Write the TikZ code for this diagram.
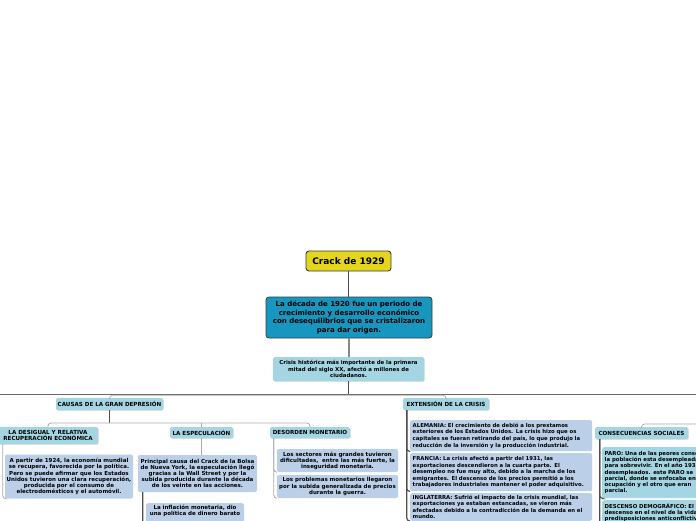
\documentclass[tikz,border=0pt]{standalone}
\usepackage{fontspec}
\setsansfont{DejaVu Sans}
\usetikzlibrary{positioning,calc,shadows}
\definecolor{crackyellow}{HTML}{E4D51F}
\definecolor{mainteal}{HTML}{1797C0}
\definecolor{paleteal}{HTML}{A3D5E2}
\definecolor{palesteel}{HTML}{BBCFE9}
\definecolor{edgedark}{HTML}{3A3A3A}
\definecolor{linkdark}{HTML}{4F4F4F}
\definecolor{linklight}{HTML}{ABABAB}

\begin{document}
\begin{tikzpicture}[
  x=1pt, y=-1pt,
  font=\sffamily\bfseries,
  rootbox/.style={
    draw=edgedark,
    fill=crackyellow,
    rounded corners=3pt,
    line width=0.9pt,
    inner sep=0pt,
    minimum width=85pt,
    minimum height=20pt,
    font=\sffamily\bfseries\fontsize{9}{10}\selectfont
  },
  introbox/.style={
    draw=edgedark,
    fill=mainteal,
    rounded corners=3pt,
    line width=0.8pt,
    inner sep=0pt,
    align=center,
    font=\sffamily\bfseries\fontsize{7}{8.6}\selectfont
  },
  topicbox/.style={
    fill=paleteal,
    rounded corners=1.5pt,
    inner sep=0pt,
    align=center,
    drop shadow={shadow xshift=0.6pt, shadow yshift=-0.7pt, fill=black!30, opacity=0.6},
    font=\sffamily\bfseries\fontsize{5.6}{6}\selectfont
  },
  notebox/.style={
    fill=palesteel,
    rounded corners=2pt,
    inner sep=0pt,
    align=center,
    font=\sffamily\bfseries\fontsize{5.5}{6.1}\selectfont
  },
  leftnote/.style={
    notebox,
    align=left,
    anchor=north west,
    inner xsep=2.5pt,
    font=\sffamily\bfseries\fontsize{5.35}{6.6}\selectfont
  },
  darklink/.style={draw=linkdark, line width=1.2pt},
  greylink/.style={draw=linklight!80!black, line width=1.4pt},
  lightlink/.style={draw=linklight, line width=0.8pt, rounded corners=3pt}
]

  \useasboundingbox (0,0) rectangle (696,520);
  \clip (0,0) rectangle (696,520);

  % ----------------------------------------------------
  % CENTRAL TOPIC
  % ----------------------------------------------------
  \node[rootbox] (crack) at (348.5,261) {Crack de 1929};

  \node[introbox, minimum width=166pt, minimum height=41pt] (decada) at (349,317.5) {
    La década de 1920 fue un periodo de\\
    crecimiento y desarrollo económico\\
    con desequilibrios que se cristalizaron\\
    para dar origen.
  };

  \node[topicbox, minimum width=151pt, minimum height=24pt, font=\sffamily\bfseries\fontsize{5.4}{6.7}\selectfont] (crisis) at (348.5,369) {
    Crisis histórica más importante de la primera\\
    mitad del siglo XX, afectó a millones de\\
    ciudadanos.
  };

  % ----------------------------------------------------
  % MAIN BRANCHES
  % ----------------------------------------------------
  \node[topicbox, minimum width=107pt, minimum height=12pt] (causas) at (109.5,404) {CAUSAS DE LA GRAN DEPRESIÓN};
  \node[topicbox, minimum width=86pt, minimum height=12pt] (extension) at (446,404) {EXTENSIÓN DE LA CRISIS};
  \node[topicbox, minimum width=93pt, minimum height=12pt] (consecuencias) at (641.5,433) {CONSECUENCIAS SOCIALES};

  % Causes
  \node[topicbox, minimum width=100pt, minimum height=17pt] (desigual) at (48,435.5) {
    LA DESIGUAL Y RELATIVA\\
    RECUPERACIÓN ECONÓMICA
  };
  \node[topicbox, minimum width=63pt, minimum height=11pt] (especulacion) at (201.5,432.5) {LA ESPECULACIÓN};
  \node[topicbox, minimum width=80pt, minimum height=11pt] (desorden) at (310,432.5) {DESORDEN MONETARIO};

  \node[notebox, minimum width=128pt, minimum height=44pt] (recupera) at (69,476.5) {
    A partir de 1924, la economía mundial\\
    se recupera, favorecida por la política.\\
    Pero se puede afirmar que los Estados\\
    Unidos tuvieron una clara recuperación,\\
    producida por el consumo de\\
    electrodomésticos y el automóvil.
  };
  \node[notebox, minimum width=119pt, minimum height=37pt] (bolsa) at (197.5,473.5) {
    Principal causa del Crack de la Bolsa\\
    de Nueva York, la especulación llegó\\
    gracias a la Wall Street y por la\\
    subida producida durante la década\\
    de los veinte en las acciones.
  };
  \node[notebox, minimum width=98pt, minimum height=30pt, anchor=north] (inflacion) at (195,503) {
    La inflación monetaria, dio\\
    una política de dinero barato\\[10pt]
  };
  \node[notebox, minimum width=121pt, minimum height=23pt] (sectores) at (337.5,460.5) {
    Los sectores más grandes tuvieron\\
    dificultades,~ entre las más fuerte, la\\
    inseguridad monetaria.
  };
  \node[notebox, minimum width=121pt, minimum height=23pt] (precios) at (337.5,486.5) {
    Los problemas monetarios llegaron\\
    por la subida generalizada de precios\\
    durante la guerra.
  };

  % Extension
  \node[leftnote, text width=177pt, minimum height=31pt] (alemania) at (410,420) {
    ALEMANIA: El crecimiento de debió a los prestamos\\
    exteriores de los Estados Unidos. La crisis hizo que os\\
    capitales se fueran retirando del país, lo que produjo la\\
    reducción de la inversión y la producción industrial.
  };
  \node[leftnote, text width=177pt, minimum height=38pt] (francia) at (410,453) {
    FRANCIA: La crisis afectó a partir del 1931, las\\
    exportaciones descendieron a la cuarta parte. El\\
    desempleo no fue muy alto, debido a la marcha de los\\
    emigrantes. El descenso de los precios permitió a los\\
    trabajadores industriales mantener el poder adquisitivo.
  };
  \node[leftnote, text width=177pt, inner ysep=2pt, font=\sffamily\bfseries\fontsize{5.35}{6.4}\selectfont] (inglaterra) at (410,493) {
    INGLATERRA: Sufrió el impacto de la crisis mundial, las\\
    exportaciones ya estaban estancadas, se vieron más\\
    afectadas debido a la contradicción de la demanda en el\\
    mundo.
  };

  % Consequences
  \node[leftnote, fill=paleteal, text width=150pt, minimum height=51pt, font=\sffamily\bfseries\fontsize{5.4}{6.2}\selectfont] (paro) at (602,447) {
    PARO: Una de las peores consecuencias\\
    la población esta desempleada\\
    para sobrevivir. En el año 1932\\
    desempleados. este PARO se\\
    parcial, donde se enfocaba en\\
    ocupación y el otro que eran\\
    parcial.
  };
  \node[leftnote, fill=paleteal, text width=150pt, inner ysep=3pt, font=\sffamily\bfseries\fontsize{5.4}{6.2}\selectfont] (descenso) at (602,500) {
    DESCENSO DEMOGRÁFICO: El\\
    descenso en el nivel de la vida\\
    predisposiciones anticonflictivas
  };

  % ----------------------------------------------------
  % CONNECTORS
  % ----------------------------------------------------
  \coordinate (busleft) at (-5,394);
  \coordinate (busright) at (701,394);
  \coordinate (causebus) at (0,423);
  \coordinate (outright) at (701,424);

  \draw[darklink, line width=1.5pt] (crack.south) -- (crack.south |- decada.north);
  \draw[greylink] (decada.south) -- (decada.south |- crisis.north);
  \draw[darklink] (crisis.south) -- (crisis.south |- busleft);
  \draw[darklink, draw=linkdark!85, line width=1pt] (busleft) -- (busright);
  \draw[lightlink] (causas.north) -- ++(0,-2.5) -| (extension.north);

  % causes
  \draw[darklink] (causas.south) -- (causas.south |- causebus);
  \draw[lightlink] (desigual.north) |- (causas.south |- causebus) -| (desorden.north);
  \draw[lightlink] (especulacion.north |- causebus) -- (especulacion.north);
  \draw[lightlink] ([xshift=5pt]desigual.south west) |- (recupera.south west);
  \draw[lightlink] (especulacion.south) -- (especulacion.south |- bolsa.north);
  \draw[darklink, rounded corners=3pt] ([xshift=5pt]bolsa.south west) |- (inflacion.south west);
  \draw[lightlink] ([xshift=4pt]desorden.south west) |- (sectores.south west);
  \draw[lightlink] ([xshift=4pt]desorden.south west) |- (precios.south west);

  % extension
  \draw[darklink, rounded corners=3pt] ([xshift=4pt]extension.south west) |- (alemania.south west);
  \draw[darklink, rounded corners=3pt] ([xshift=4pt]extension.south west) |- (francia.south west);
  \draw[darklink, rounded corners=3pt] ([xshift=4pt]extension.south west) |- (inglaterra.south west);

  % consequences
  \draw[lightlink] (consecuencias.north) |- (outright);
  \draw[darklink, rounded corners=3pt] ([xshift=5pt]consecuencias.south west) |- (paro.south west);
  \draw[darklink, rounded corners=3pt] ([xshift=5pt]consecuencias.south west) |- (descenso.south west);

\end{tikzpicture}
\end{document}
